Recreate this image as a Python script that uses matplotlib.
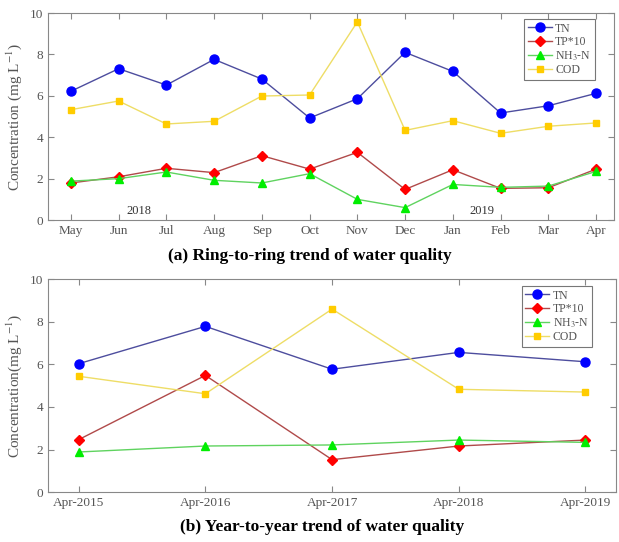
import matplotlib
matplotlib.use("Agg")
import matplotlib.pyplot as plt

plt.rcParams['font.family'] = ['Liberation Serif', 'DejaVu Serif']
plt.rcParams['mathtext.fontset'] = 'stix'

# (a) month-to-month data
months = ['May', 'Jun', 'Jul', 'Aug', 'Sep', 'Oct', 'Nov', 'Dec', 'Jan', 'Feb', 'Mar', 'Apr']
tn_m = [6.22, 7.31, 6.52, 7.76, 6.81, 4.93, 5.86, 8.10, 7.18, 5.17, 5.52, 6.12]
tp_m = [1.79, 2.09, 2.50, 2.29, 3.11, 2.46, 3.27, 1.48, 2.43, 1.53, 1.56, 2.46]
nh3_m = [1.88, 2.00, 2.32, 1.92, 1.79, 2.24, 1.00, 0.60, 1.72, 1.58, 1.64, 2.35]
cod_m = [5.33, 5.75, 4.64, 4.77, 5.99, 6.04, 9.57, 4.33, 4.80, 4.19, 4.53, 4.69]

# (b) year-to-year data
years = ['Apr-2015', 'Apr-2016', 'Apr-2017', 'Apr-2018', 'Apr-2019']
tn_y = [6.03, 7.78, 5.77, 6.56, 6.12]
tp_y = [2.47, 5.48, 1.53, 2.17, 2.45]
nh3_y = [1.89, 2.17, 2.22, 2.45, 2.34]
cod_y = [5.44, 4.62, 8.59, 4.83, 4.70]

series = [
    ('TN', 'o', '#4d4d9e', '#0000ff', 6.5),
    ('TP*10', 'D', '#b04a4a', '#ff0000', 5),
    ('NH$_3$-N', '^', '#5fd35f', '#00ee00', 5.5),
    ('COD', 's', '#eedd66', '#ffcc00', 5),
]
grey = '#555555'


def style_axes(ax):
    for s in ax.spines.values():
        s.set_color('#888888')
        s.set_linewidth(0.8)
    ax.tick_params(direction='in', top=True, right=True, colors='#888888',
                   labelcolor=grey, labelsize=9.5, length=4)
    ax.set_ylim(0, 10)
    ax.set_yticks([0, 2, 4, 6, 8, 10])


def draw(ax, labels, data, anchor):
    x = list(range(1, len(labels) + 1))
    for (name, mk, lc, mc, ms), ys in zip(series, data):
        ax.plot(x, ys, color=lc, lw=1.0, marker=mk, markersize=ms,
                markerfacecolor=mc, markeredgecolor=mc, label=name)
    ax.set_xticks(x)
    ax.set_xticklabels(labels)
    leg = ax.legend(loc='upper right', bbox_to_anchor=anchor, fontsize=8.5,
                    fancybox=False, handlelength=2.0, borderpad=0.3,
                    labelspacing=0.12, handletextpad=0.3, borderaxespad=0)
    leg.get_frame().set_edgecolor('#555555')
    leg.get_frame().set_linewidth(0.8)
    for t in leg.get_texts():
        t.set_color(grey)


fig = plt.figure(figsize=(6.19, 5.42), dpi=100)

ax1 = fig.add_axes([0.0775, 0.594, 0.914, 0.382])
draw(ax1, months, [tn_m, tp_m, nh3_m, cod_m], (0.966, 0.971))
style_axes(ax1)
ax1.set_xlim(0.52, 12.37)
ax1.set_ylabel('Concentration (mg L$^{-1}$)', fontsize=11, color=grey)
ax1.text(2.42, 0.45, '2018', fontsize=9, color='#333333', ha='center', va='center')
ax1.text(9.61, 0.45, '2019', fontsize=9, color='#333333', ha='center', va='center')

ax2 = fig.add_axes([0.078, 0.0917, 0.917, 0.3935])
draw(ax2, years, [tn_y, tp_y, nh3_y, cod_y], (0.958, 0.967))
style_axes(ax2)
ax2.set_xlim(0.76, 5.24)
ax2.set_ylabel('Concentration(mg L$^{-1}$)', fontsize=11, color=grey)

fig.text(0.5, 1 - 256 / 542, '(a) Ring-to-ring trend of water quality',
         ha='center', va='center', fontsize=12.5, fontweight='bold')
fig.text(0.52, 1 - 527 / 542, '(b) Year-to-year trend of water quality',
         ha='center', va='center', fontsize=12.5, fontweight='bold')

fig.savefig('out.png', dpi=100)
